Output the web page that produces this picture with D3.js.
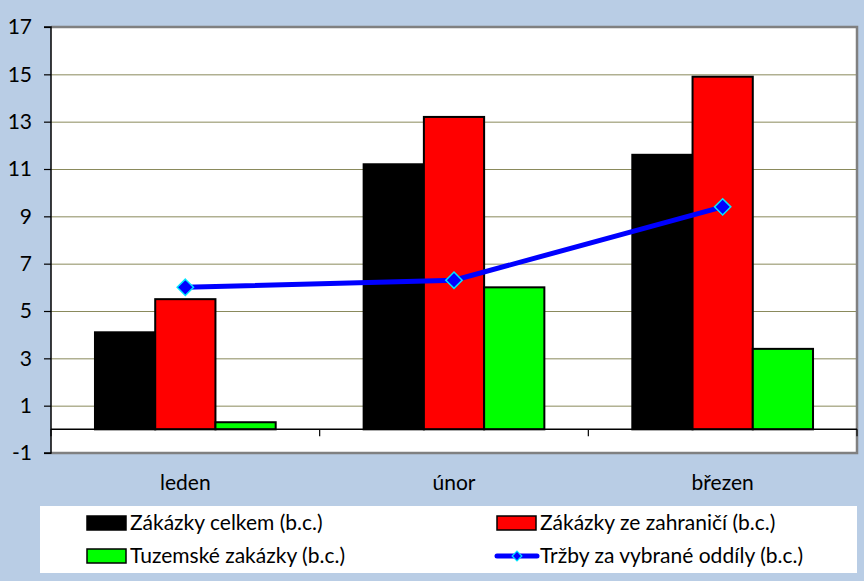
<!DOCTYPE html>
<html><head><meta charset="utf-8">
<script src="https://cdn.jsdelivr.net/npm/d3@7"></script>
<style>body{margin:0;background:#B9CDE5;}svg{display:block;}</style>
</head><body>
<script>
const categories = ["leden", "únor", "březen"];
const zakazkyCelkem = [4.1, 11.2, 11.6];
const zakazkyZahranici = [5.5, 13.2, 14.9];
const tuzemske = [0.3, 6.0, 3.4];
const trzby = [6.0, 6.3, 9.4];
const yTicks = [-1, 1, 3, 5, 7, 9, 11, 13, 15, 17];
const seriesNames = ["Zákázky celkem (b.c.)", "Zákázky ze zahraničí (b.c.)", "Tuzemské zakázky (b.c.)", "Tržby za vybrané oddíly (b.c.)"];

const W = 864, H = 581;
const svg = d3.select("body").append("svg").attr("width", W).attr("height", H);
svg.append("rect").attr("width", W).attr("height", H).attr("fill", "#B9CDE5");

const L = 51, R = 857, T = 27, B = 453;
const font = "Lato, 'Open Sans', sans-serif";
const y = d3.scaleLinear().domain([-1, 17]).range([B, T]);
const x = d3.scaleBand().domain(categories).range([L, R]).paddingInner(0).paddingOuter(0);
const barSeries = [zakazkyCelkem, zakazkyZahranici, tuzemske];
const barColors = ["#000000", "#FF0000", "#00FF00"];
const inner = d3.scaleBand().domain([0,1,2]).range([0, x.bandwidth()]).paddingOuter(0.73).paddingInner(0);

svg.append("rect").attr("x", L).attr("y", T).attr("width", R-L).attr("height", B-T).attr("fill", "#fff");

// gridlines
svg.append("g").selectAll("line").data(yTicks.filter(d => d > -1 && d < 17)).join("line")
  .attr("x1", L).attr("x2", R).attr("y1", d => y(d)+0.5).attr("y2", d => y(d)+0.5)
  .attr("stroke", "#8A8A5C").attr("stroke-width", 1);

// border
svg.append("path").attr("d", `M${L},${T} H${R} V${B} H${L}`).attr("fill", "none").attr("stroke", "#808080").attr("stroke-width", 2.5);

// bars
barSeries.forEach((vals, si) => {
  svg.append("g").selectAll("rect").data(vals).join("rect")
    .attr("x", (d, i) => x(categories[i]) + inner(si))
    .attr("width", inner.bandwidth())
    .attr("y", d => y(Math.max(d, 0)))
    .attr("height", d => Math.abs(y(d) - y(0)))
    .attr("fill", barColors[si])
    .attr("stroke", "#000").attr("stroke-width", 2);
});

// zero axis
svg.append("line").attr("x1", L).attr("x2", R).attr("y1", y(0)).attr("y2", y(0)).attr("stroke", "#000").attr("stroke-width", 1.5);
// x ticks at boundaries
const bounds = categories.map(c => x(c)).concat([R]);
svg.append("g").selectAll("line").data(bounds).join("line")
  .attr("x1", d => d).attr("x2", d => d).attr("y1", y(0)).attr("y2", y(0)+7)
  .attr("stroke", "#000").attr("stroke-width", 1.2);

// y axis
const yAxis = d3.axisLeft(y).tickValues(yTicks).tickSize(7).tickPadding(12).tickFormat(d => String(d));
const ga = svg.append("g").attr("transform", `translate(${L},0)`).call(yAxis);
ga.select(".domain").attr("stroke", "#000").attr("stroke-width", 1.5).attr("d", `M-7,${B}H0V${T}H-7`);
ga.selectAll(".tick line").attr("stroke", "#000").attr("stroke-width", 1.2);
ga.selectAll("text").attr("font-family", font).attr("font-size", 21).attr("fill", "#000");

// category labels
svg.append("g").selectAll("text").data(categories).join("text")
  .attr("x", d => x(d) + x.bandwidth()/2).attr("y", 490)
  .attr("text-anchor", "middle").attr("font-family", font).attr("font-size", 21).text(d => d);

// line
const lx = (d, i) => x(categories[i]) + x.bandwidth()/2;
svg.append("path").datum(trzby).attr("d", d3.line().x(lx).y(d => y(d)))
  .attr("fill", "none").attr("stroke", "#0000FF").attr("stroke-width", 5);
const diamond = d3.symbol().type(d3.symbolDiamond2).size(170);
svg.append("g").selectAll("path").data(trzby).join("path")
  .attr("transform", (d, i) => `translate(${lx(d, i)},${y(d)})`)
  .attr("d", diamond).attr("fill", "#0000FF").attr("stroke", "#00E5FF").attr("stroke-width", 1.5);

// legend
svg.append("rect").attr("x", 40).attr("y", 506).attr("width", 817).attr("height", 67).attr("fill", "#fff");
const legPos = [[87, 523], [497, 523], [87, 556], [497, 556]];
seriesNames.forEach((name, i) => {
  const [lx0, ly] = legPos[i];
  const g = svg.append("g");
  if (i < 3) {
    g.append("rect").attr("x", lx0).attr("y", ly - 7).attr("width", 39).attr("height", 14)
      .attr("fill", barColors[i]).attr("stroke", "#000").attr("stroke-width", 1.5);
  } else {
    g.append("line").attr("x1", lx0).attr("x2", lx0 + 40).attr("y1", ly).attr("y2", ly)
      .attr("stroke", "#0000FF").attr("stroke-width", 5).attr("stroke-linecap", "round");
    g.append("path").attr("transform", `translate(${lx0+20},${ly})`).attr("d", d3.symbol().type(d3.symbolDiamond2).size(60))
      .attr("fill", "#0000FF").attr("stroke", "#00E5FF").attr("stroke-width", 1.2);
  }
  g.append("text").attr("x", lx0 + 43).attr("y", ly + 7).attr("font-family", font).attr("font-size", 21).text(name);
});
</script>
</body></html>
